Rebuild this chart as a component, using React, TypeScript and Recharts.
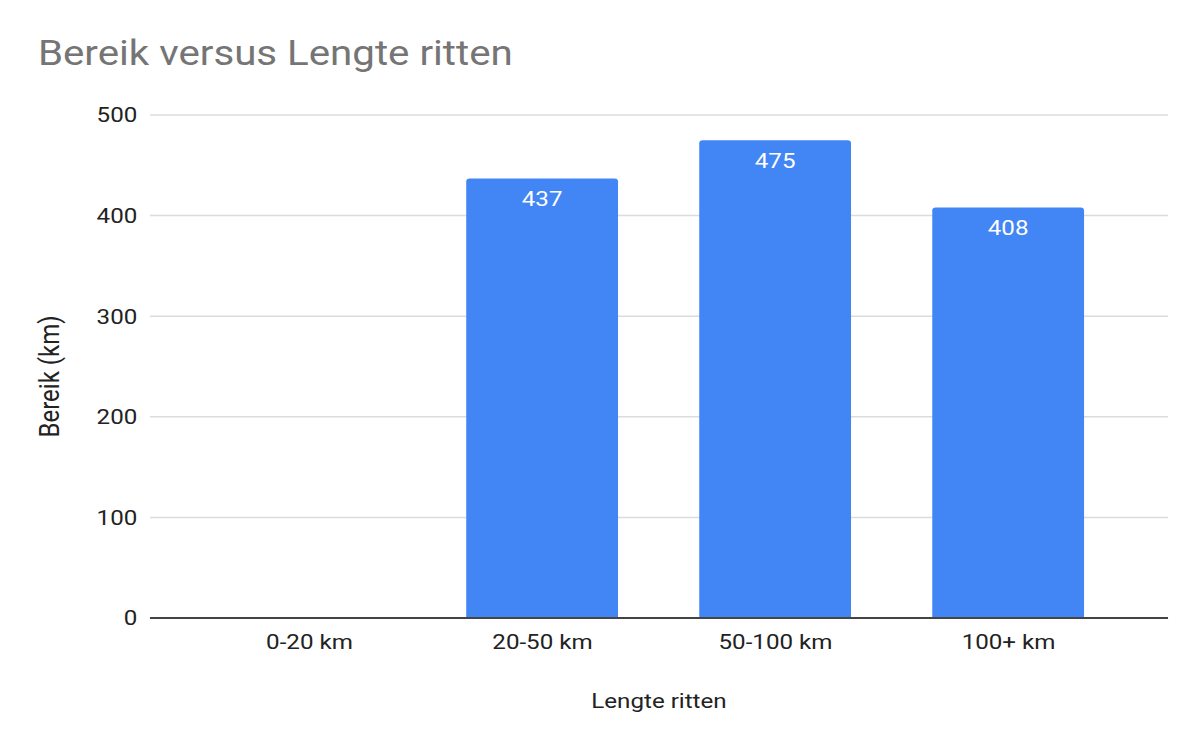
import { BarChart, Bar, XAxis, YAxis, CartesianGrid, LabelList, Label } from "recharts";

// waarden
const CATEGORIES = ["0-20 km", "20-50 km", "50-100 km", "100+ km"];
const BEREIK: (number | null)[] = [null, 437, 475, 408];
const Y_TICKS = [0, 100, 200, 300, 400, 500];

// het origineel is horizontaal uitgerekt, dus alles wordt in x geschaald
const STRETCH = 1.15;
const WIDTH = 1203 / STRETCH;
const HEIGHT = 751;
const FONT = "Roboto, 'Liberation Sans', Arial, sans-serif";
const TEXT = "#222222";

const data = CATEGORIES.map((lengte, i) => ({ lengte, bereik: BEREIK[i] }));

function YTitle({ viewBox }: any) {
  const cx = viewBox.x + 43;
  const cy = viewBox.y + viewBox.height / 2 + 10;
  return (
    <text
      x={cx}
      y={cy}
      transform={`rotate(-90 ${cx} ${cy})`}
      textAnchor="middle"
      dominantBaseline="central"
      fill={TEXT}
      fontSize={24}
      fontFamily={FONT}
    >
      Bereik (km)
    </text>
  );
}

function XTitle({ viewBox }: any) {
  const cx = viewBox.x + viewBox.width / 2;
  const cy = viewBox.y + 83;
  return (
    <text
      x={cx}
      y={cy}
      textAnchor="middle"
      dominantBaseline="central"
      fill={TEXT}
      fontSize={21}
      fontFamily={FONT}
    >
      Lengte ritten
    </text>
  );
}

export default function App() {
  return (
    <div
      style={{
        position: "absolute",
        left: 0,
        top: 0,
        width: 1203,
        height: HEIGHT,
        overflow: "hidden",
        background: "#fff",
      }}
    >
      <div
        style={{
          position: "relative",
          width: WIDTH,
          height: HEIGHT,
          transform: `scaleX(${STRETCH})`,
          transformOrigin: "0 0",
        }}
      >
        <div
          style={{
            position: "absolute",
            left: 33,
            top: 36,
            fontFamily: FONT,
            fontSize: 35,
            color: "#757575",
            whiteSpace: "nowrap",
            lineHeight: 1,
          }}
        >
          Bereik versus Lengte ritten
        </div>
        <BarChart
          width={WIDTH}
          height={HEIGHT}
          data={data}
          margin={{ top: 115, right: 30.4, bottom: 43, left: 0 }}
        >
          <CartesianGrid vertical={false} stroke="#dcdcdc" strokeWidth={1.5} />
          <XAxis
            dataKey="lengte"
            height={90}
            padding={{ left: 37.4, right: 37.4 }}
            tickLine={false}
            tickSize={0}
            tickMargin={16}
            axisLine={{ stroke: "#444", strokeWidth: 2 }}
            tick={{ fill: TEXT, fontSize: 21, fontFamily: FONT }}
            interval={0}
          >
            <Label content={<XTitle />} />
          </XAxis>
          <YAxis
            width={130.4}
            domain={[0, 500]}
            ticks={Y_TICKS}
            tickLine={false}
            axisLine={false}
            tickSize={0}
            tickMargin={11}
            tick={{ fill: TEXT, fontSize: 21, fontFamily: FONT }}
          >
            <Label content={<YTitle />} />
          </YAxis>
          <Bar
            dataKey="bereik"
            fill="#4285F4"
            barSize={132}
            radius={[3, 3, 0, 0]}
            isAnimationActive={false}
          >
            <LabelList
              dataKey="bereik"
              position="insideTop"
              offset={13}
              fill="#ffffff"
              fontSize={21}
              fontFamily={FONT}
            />
          </Bar>
        </BarChart>
      </div>
    </div>
  );
}
